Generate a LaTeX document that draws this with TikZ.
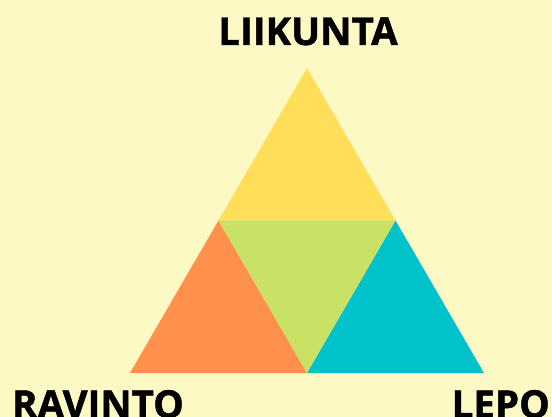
\documentclass[tikz,border=0pt]{standalone}
\usepackage{fontspec}
\setmainfont[BoldFeatures={FakeBold=1.2}]{Open Sans}
\definecolor{bg}{HTML}{FDF9C4}
\definecolor{cyel}{HTML}{FFDE59}
\definecolor{cgrn}{HTML}{C9E265}
\definecolor{corg}{HTML}{FF914D}
\definecolor{ccyn}{HTML}{00C2CB}
\begin{document}
\begin{tikzpicture}[x=1pt,y=-1pt,
  lbl/.style={font=\bfseries\fontsize{38.5}{39}\selectfont, text=black, inner sep=0pt}]
\fill[bg] (0,0) rectangle (552,417);
\useasboundingbox (0,0) rectangle (552,417);
\coordinate (A) at (307,68);
\coordinate (B) at (130,373);
\coordinate (C) at (484,373);
\coordinate (AB) at (218.5,220.5);
\coordinate (AC) at (395.5,220.5);
\coordinate (BC) at (307,373);
\fill[cyel] (A) -- (AB) -- (AC) -- cycle;
\fill[corg] (AB) -- (B) -- (BC) -- cycle;
\fill[ccyn] (AC) -- (BC) -- (C) -- cycle;
\fill[cgrn] (AB) -- (AC) -- (BC) -- cycle;
\node[lbl, anchor=base] (t1) at (308,45) {LIIKUNTA};
\node[lbl, anchor=base west] (t2) at (12,418) {RAVINTO};
\node[lbl, anchor=base east] (t3) at (550,418) {LEPO};
\end{tikzpicture}
\end{document}
